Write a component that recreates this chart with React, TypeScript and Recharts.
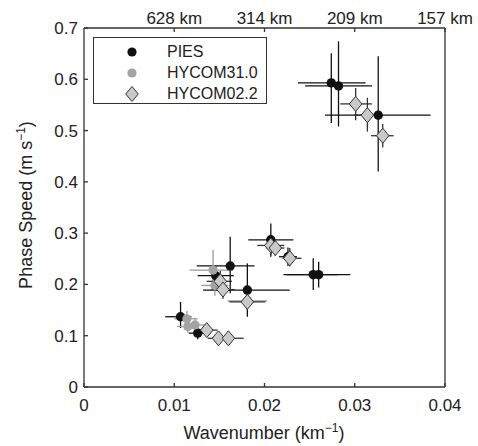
import React from "react";
import { ScatterChart, Scatter, XAxis, YAxis, ErrorBar } from "recharts";

// wavenumber (km^-1) and phase speed (m/s), errors as [minus, plus]
const piesK = [0.0274, 0.0282, 0.0326, 0.0207, 0.0226, 0.0254, 0.026, 0.0162, 0.0181, 0.0146, 0.0107, 0.0126];
const piesSpeed = [0.593, 0.587, 0.53, 0.287, 0.254, 0.219, 0.219, 0.236, 0.189, 0.217, 0.137, 0.105];
const piesKErr = [
  [0.0037, 0.0038], [0.0037, 0.0037], [0.0059, 0.0058], [0.0025, 0.0025], [0.001, 0.001], [0.0033, 0.0027],
  [0.0035, 0.0035], [0.0037, 0.0027], [0.0049, 0.0047], [0.002, 0.002], [0.0017, 0.0012], [0.001, 0.0012],
];
const piesSpeedErr = [
  [0.078, 0.058], [0.079, 0.087], [0.11, 0.115], [0.033, 0.032], [0.018, 0.018], [0.03, 0.032],
  [0.025, 0.025], [0.053, 0.057], [0.052, 0.052], [0.02, 0.02], [0.022, 0.029], [0.012, 0.012],
];

const hycom31K = [0.0143, 0.0145, 0.0114, 0.0115, 0.0123, 0.0181];
const hycom31Speed = [0.228, 0.198, 0.133, 0.118, 0.121, 0.168];
const hycom31KErr = [
  [0.0026, 0.0022], [0.0015, 0.0015], [0.0014, 0.0012], [0.0012, 0.0012], [0.0012, 0.0012], [0.0022, 0.0022],
];
const hycom31SpeedErr = [
  [0.039, 0.039], [0.02, 0.02], [0.015, 0.015], [0.012, 0.012], [0.012, 0.012], [0.012, 0.012],
];

const hycom22K = [0.0301, 0.0314, 0.0331, 0.0207, 0.0212, 0.0228, 0.0151, 0.0154, 0.0181, 0.0136, 0.0149, 0.016];
const hycom22Speed = [0.552, 0.53, 0.49, 0.276, 0.271, 0.251, 0.206, 0.19, 0.166, 0.111, 0.095, 0.095];
const hycom22KErr = [
  [0.0017, 0.0018], [0.0015, 0.0012], [0.0013, 0.0012], [0.0015, 0.0015], [0.001, 0.001], [0.0008, 0.0013],
  [0.0015, 0.0013], [0.0013, 0.0013], [0.002, 0.002], [0.0013, 0.0012], [0.0012, 0.0012], [0.0015, 0.0017],
];
const hycom22SpeedErr = [
  [0.032, 0.031], [0.032, 0.034], [0.023, 0.023], [0.018, 0.015], [0.015, 0.015], [0.016, 0.02],
  [0.02, 0.02], [0.018, 0.018], [0.015, 0.015], [0.012, 0.012], [0.01, 0.01], [0.01, 0.01],
];

const kTicks = [0, 0.01, 0.02, 0.03, 0.04];
const topTicks = [0.01, 0.02, 0.03, 0.04];
const topTickLabels = ["628 km", "314 km", "209 km", "157 km"];
const speedTicks = [0, 0.1, 0.2, 0.3, 0.4, 0.5, 0.6, 0.7];

const FONT = "'Liberation Sans', Arial, sans-serif";
const AXIS = "#333";

const toRows = (k: number[], c: number[], kErr: number[][], cErr: number[][]) =>
  k.map((v, i) => ({ k: v, c: c[i], kErr: kErr[i], cErr: cErr[i] }));

const piesData = toRows(piesK, piesSpeed, piesKErr, piesSpeedErr);
const hycom31Data = toRows(hycom31K, hycom31Speed, hycom31KErr, hycom31SpeedErr);
const hycom22Data = toRows(hycom22K, hycom22Speed, hycom22KErr, hycom22SpeedErr);

const BlackDot = (p: any) => <circle cx={p.cx} cy={p.cy} r={4.7} fill="#111" />;
const GrayDot = (p: any) => <circle cx={p.cx} cy={p.cy} r={4.6} fill="#a3a3a3" />;
const Diamond = (p: any) => (
  <path
    d={`M${p.cx},${p.cy - 7.5}L${p.cx + 6.3},${p.cy}L${p.cx},${p.cy + 7.5}L${p.cx - 6.3},${p.cy}Z`}
    fill="#c9c9c9"
    stroke="#333"
    strokeWidth={1}
  />
);

const XTitle = () => (
  <text x={264} y={439} textAnchor="middle" fontSize={18} fill="#222" fontFamily={FONT}>
    Wavenumber (km
    <tspan dy={-7} fontSize={12}>−1</tspan>
    <tspan dy={7}>)</tspan>
  </text>
);

const YTitle = () => (
  <text
    x={32}
    y={205}
    transform="rotate(-90, 32, 205)"
    textAnchor="middle"
    fontSize={18}
    fill="#222"
    fontFamily={FONT}
  >
    Phase Speed (m s
    <tspan dy={-7} fontSize={12}>−1</tspan>
    <tspan dy={7}>)</tspan>
  </text>
);

const tickStyle = { fontSize: 17, fill: "#222", fontFamily: FONT };

const legendRows = [
  { name: "PIES", marker: <circle cx={9} cy={9} r={4.6} fill="#111" /> },
  { name: "HYCOM31.0", marker: <circle cx={9} cy={9} r={4.6} fill="#a3a3a3" /> },
  { name: "HYCOM02.2", marker: <path d="M9,1.5L15.3,9L9,16.5L2.7,9Z" fill="#c9c9c9" stroke="#333" /> },
];

const ChartLegend = () => (
  <div
    style={{
      position: "absolute",
      left: 93,
      top: 37,
      width: 172,
      height: 65,
      border: `1.3px solid ${AXIS}`,
      background: "#fff",
      fontFamily: FONT,
      fontSize: 16,
      color: "#222",
    }}
  >
    {legendRows.map((r, i) => (
      <div key={r.name} style={{ position: "absolute", left: 29, top: 5 + i * 21, height: 18, display: "flex", alignItems: "center" }}>
        <svg width={18} height={18}>{r.marker}</svg>
        <span style={{ marginLeft: 26, lineHeight: "18px" }}>{r.name}</span>
      </div>
    ))}
  </div>
);

export default function App() {
  return (
    <div style={{ position: "absolute", left: 0, top: 0, width: 478, height: 446, background: "#fff" }}>
      <ScatterChart width={478} height={446} margin={{ top: 0, right: 0, bottom: 0, left: 0 }}>
        <XAxis
          xAxisId="top"
          orientation="top"
          type="number"
          dataKey="k"
          domain={[0, 0.04]}
          ticks={topTicks}
          tickFormatter={(v: number) => topTickLabels[topTicks.findIndex((t) => Math.abs(t - v) < 1e-9)] ?? ""}
          height={28}
          allowDataOverflow
          tickSize={-4}
          tickMargin={8}
          tick={tickStyle}
          tickLine={{ stroke: AXIS }}
          stroke={AXIS}
          strokeWidth={1.3}
        />
        <XAxis
          xAxisId="bottom"
          type="number"
          dataKey="k"
          domain={[0, 0.04]}
          ticks={kTicks}
          tickFormatter={(v: number) => (v === 0 ? "0" : String(v))}
          height={59}
          allowDataOverflow
          tickSize={-4}
          tickMargin={16}
          tick={tickStyle}
          tickLine={{ stroke: AXIS }}
          stroke={AXIS}
          strokeWidth={1.3}
          label={<XTitle />}
        />
        <YAxis
          yAxisId="left"
          type="number"
          dataKey="c"
          domain={[0, 0.7]}
          ticks={speedTicks}
          width={84}
          allowDataOverflow
          tickSize={-4}
          tickMargin={10}
          tick={tickStyle}
          tickLine={{ stroke: AXIS }}
          stroke={AXIS}
          strokeWidth={1.3}
          label={<YTitle />}
        />
        <YAxis
          yAxisId="right"
          orientation="right"
          type="number"
          domain={[0, 0.7]}
          ticks={speedTicks}
          width={33}
          allowDataOverflow
          tickSize={-4}
          tick={false}
          tickLine={{ stroke: AXIS }}
          stroke={AXIS}
          strokeWidth={1.3}
        />
        <Scatter data={piesData} xAxisId="bottom" yAxisId="left" shape={BlackDot} isAnimationActive={false}>
          <ErrorBar dataKey="kErr" direction="x" width={0} stroke="#111" strokeWidth={1.3} />
          <ErrorBar dataKey="cErr" direction="y" width={0} stroke="#111" strokeWidth={1.3} />
        </Scatter>
        <Scatter data={hycom31Data} xAxisId="bottom" yAxisId="left" shape={GrayDot} isAnimationActive={false}>
          <ErrorBar dataKey="kErr" direction="x" width={0} stroke="#999" strokeWidth={1.3} />
          <ErrorBar dataKey="cErr" direction="y" width={0} stroke="#999" strokeWidth={1.3} />
        </Scatter>
        <Scatter data={hycom22Data} xAxisId="bottom" yAxisId="left" shape={Diamond} isAnimationActive={false}>
          <ErrorBar dataKey="kErr" direction="x" width={0} stroke="#333" strokeWidth={1.3} />
          <ErrorBar dataKey="cErr" direction="y" width={0} stroke="#333" strokeWidth={1.3} />
        </Scatter>
      </ScatterChart>
      <ChartLegend />
    </div>
  );
}
